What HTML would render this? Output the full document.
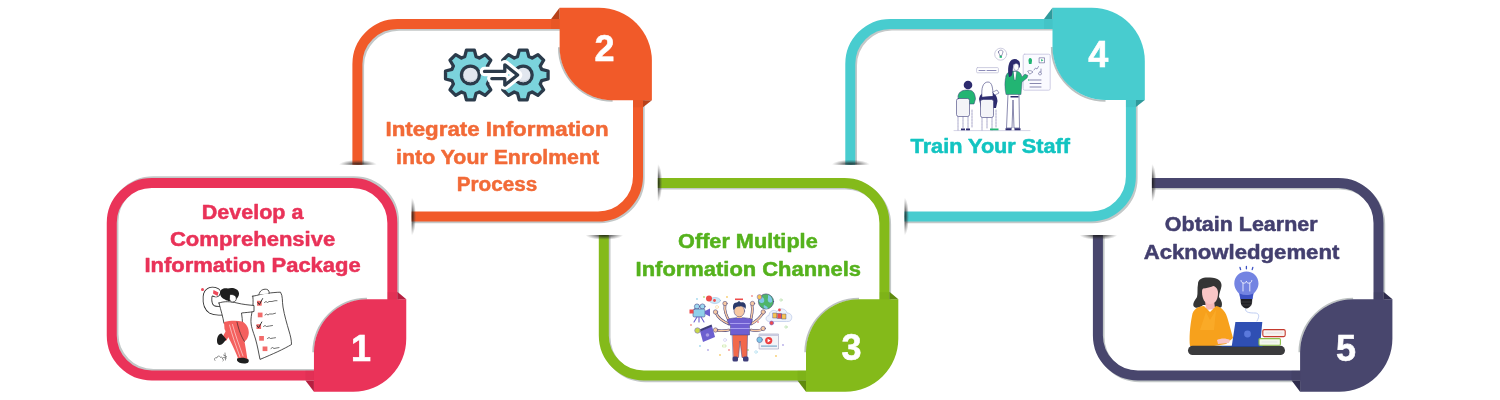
<!DOCTYPE html>
<html><head><meta charset="utf-8"><style>
html,body{margin:0;padding:0;background:#fff;}
svg{display:block;will-change:transform;}
text{font-family:"Liberation Sans",sans-serif;font-weight:bold;}
text.t{stroke-width:0.5px;stroke-linejoin:round;}
</style></head><body>
<svg width="1500" height="400" viewBox="0 0 1500 400">
<defs><radialGradient id="cap5a" cx="0.5" cy="0.5" r="0.5"><stop offset="0" stop-color="#111" stop-opacity="0.85"/><stop offset="0.4" stop-color="#222" stop-opacity="0.6"/><stop offset="1" stop-color="#444" stop-opacity="0"/></radialGradient><clipPath id="cap5ac"><path d="M-13.5,57.0 H24.5 V62.0 H-13.5 Z"/></clipPath><radialGradient id="cap5b" cx="0.5" cy="0.5" r="0.5"><stop offset="0" stop-color="#111" stop-opacity="0.85"/><stop offset="0.4" stop-color="#222" stop-opacity="0.6"/><stop offset="1" stop-color="#444" stop-opacity="0"/></radialGradient><clipPath id="cap5bc"><path d="M59.0,-14.0 H63.5 V24.0 H59.0 Z"/></clipPath><radialGradient id="cap4a" cx="0.5" cy="0.5" r="0.5"><stop offset="0" stop-color="#111" stop-opacity="0.85"/><stop offset="0.4" stop-color="#222" stop-opacity="0.6"/><stop offset="1" stop-color="#444" stop-opacity="0"/></radialGradient><clipPath id="cap4ac"><path d="M-13.5,140.8 H24.5 V145.8 H-13.5 Z"/></clipPath><radialGradient id="cap4b" cx="0.5" cy="0.5" r="0.5"><stop offset="0" stop-color="#111" stop-opacity="0.85"/><stop offset="0.4" stop-color="#222" stop-opacity="0.6"/><stop offset="1" stop-color="#444" stop-opacity="0"/></radialGradient><clipPath id="cap4bc"><path d="M59.2,178.6 H63.7 V216.6 H59.2 Z"/></clipPath><radialGradient id="cap3a" cx="0.5" cy="0.5" r="0.5"><stop offset="0" stop-color="#111" stop-opacity="0.85"/><stop offset="0.4" stop-color="#222" stop-opacity="0.6"/><stop offset="1" stop-color="#444" stop-opacity="0"/></radialGradient><clipPath id="cap3ac"><path d="M-13.5,57.0 H24.5 V62.0 H-13.5 Z"/></clipPath><radialGradient id="cap3b" cx="0.5" cy="0.5" r="0.5"><stop offset="0" stop-color="#111" stop-opacity="0.85"/><stop offset="0.4" stop-color="#222" stop-opacity="0.6"/><stop offset="1" stop-color="#444" stop-opacity="0"/></radialGradient><clipPath id="cap3bc"><path d="M59.0,-14.0 H63.5 V24.0 H59.0 Z"/></clipPath><radialGradient id="cap2a" cx="0.5" cy="0.5" r="0.5"><stop offset="0" stop-color="#111" stop-opacity="0.85"/><stop offset="0.4" stop-color="#222" stop-opacity="0.6"/><stop offset="1" stop-color="#444" stop-opacity="0"/></radialGradient><clipPath id="cap2ac"><path d="M-13.5,140.8 H24.5 V145.8 H-13.5 Z"/></clipPath><radialGradient id="cap2b" cx="0.5" cy="0.5" r="0.5"><stop offset="0" stop-color="#111" stop-opacity="0.85"/><stop offset="0.4" stop-color="#222" stop-opacity="0.6"/><stop offset="1" stop-color="#444" stop-opacity="0"/></radialGradient><clipPath id="cap2bc"><path d="M59.2,178.6 H63.7 V216.6 H59.2 Z"/></clipPath></defs>
<rect width="1500" height="400" fill="#fff"/>
<g transform="translate(1092.9,177.9)">
<path d="M5.0,57.0 V157.6 A40.0,40.0 0 0 0 45.0,197.6 H245.60000000000002 A40.0,40.0 0 0 0 285.6,157.6 V45.0 A40.0,40.0 0 0 0 245.60000000000002,5.0 H59.0" fill="none" stroke="#c3c8c8" stroke-width="10" transform="translate(1.7,1.7)"/>
<path d="M5.0,57.0 V157.6 A40.0,40.0 0 0 0 45.0,197.6 H245.60000000000002 A40.0,40.0 0 0 0 285.6,157.6 V45.0 A40.0,40.0 0 0 0 245.60000000000002,5.0 H59.0" fill="none" stroke="#48466d" stroke-width="10"/>
<ellipse cx="5.5" cy="57.0" rx="19" ry="5" fill="url(#cap5a)" clip-path="url(#cap5ac)"/>
<ellipse cx="59.0" cy="5.0" rx="4.5" ry="19" fill="url(#cap5b)" clip-path="url(#cap5bc)"/>
<path d="M206.5,174.4 A53.7,53.7 0 0 1 260.2,120.7" fill="none" stroke="#bcc1c1" stroke-width="1.9"/>
<path d="M207.2,174.4 A53,53 0 0 1 260.2,121.4 H299.5 V160.8 A53,53 0 0 1 246.5,213.8 H207.2 Z" fill="#48466d"/>
<path d="M280.6,114.4 L290.6,114.4 L299.5,121.4 L280.6,121.4 Z" fill="#2e2c4c" opacity="0.15"/>
<path d="M290.6,113.9 L299.5,121.4 L290.6,121.4 Z" fill="#2e2c4c"/>
<path d="M198.7,192.6 L207.2,192.6 L207.2,202.6 L198.7,202.6 Z" fill="#2e2c4c" opacity="0.15"/>
<path d="M198.7,202.6 L207.2,202.6 L207.2,213.8 Z" fill="#2e2c4c"/>
</g>
<g transform="translate(845.3,18.9)">
<path d="M59.2,197.6 H245.60000000000002 A40.0,40.0 0 0 0 285.6,157.6 V45.0 A40.0,40.0 0 0 0 245.60000000000002,5.0 H45.0 A40.0,40.0 0 0 0 5.0,45.0 V143.8" fill="none" stroke="#c3c8c8" stroke-width="10" transform="translate(1.7,1.7)"/>
<path d="M59.2,197.6 H245.60000000000002 A40.0,40.0 0 0 0 285.6,157.6 V45.0 A40.0,40.0 0 0 0 245.60000000000002,5.0 H45.0 A40.0,40.0 0 0 0 5.0,45.0 V145.8" fill="none" stroke="#48cccf" stroke-width="10"/>
<ellipse cx="5.5" cy="145.8" rx="19" ry="5" fill="url(#cap4a)" clip-path="url(#cap4ac)"/>
<ellipse cx="59.2" cy="197.6" rx="4.5" ry="19" fill="url(#cap4b)" clip-path="url(#cap4bc)"/>
<path d="M260.2,81.89999999999999 A53.7,53.7 0 0 1 206.5,28.19999999999999" fill="none" stroke="#bcc1c1" stroke-width="1.9"/>
<path d="M207.2,-11.200000000000017 H246.5 A53,53 0 0 1 299.5,41.79999999999998 V81.19999999999999 H260.2 A53,53 0 0 1 207.2,28.19999999999999 Z" fill="#48cccf"/>
<path d="M198.7,0 L207.2,0 L207.2,10 L198.7,10 Z" fill="#2f9a9c" opacity="0.15"/>
<path d="M198.7,0 L207.2,-11.200000000000017 L207.2,0 Z" fill="#2f9a9c"/>
<path d="M280.6,81.19999999999999 L290.6,81.19999999999999 L290.6,88.19999999999999 L280.6,88.19999999999999 Z" fill="#2f9a9c" opacity="0.15"/>
<path d="M290.6,88.19999999999999 L299.5,81.19999999999999 L290.6,81.19999999999999 Z" fill="#2f9a9c"/>
</g>
<g transform="translate(598.8,177.9)">
<path d="M5.0,57.0 V157.6 A40.0,40.0 0 0 0 45.0,197.6 H245.60000000000002 A40.0,40.0 0 0 0 285.6,157.6 V45.0 A40.0,40.0 0 0 0 245.60000000000002,5.0 H59.0" fill="none" stroke="#c3c8c8" stroke-width="10" transform="translate(1.7,1.7)"/>
<path d="M5.0,57.0 V157.6 A40.0,40.0 0 0 0 45.0,197.6 H245.60000000000002 A40.0,40.0 0 0 0 285.6,157.6 V45.0 A40.0,40.0 0 0 0 245.60000000000002,5.0 H59.0" fill="none" stroke="#84ba1a" stroke-width="10"/>
<ellipse cx="5.5" cy="57.0" rx="19" ry="5" fill="url(#cap3a)" clip-path="url(#cap3ac)"/>
<ellipse cx="59.0" cy="5.0" rx="4.5" ry="19" fill="url(#cap3b)" clip-path="url(#cap3bc)"/>
<path d="M206.5,174.4 A53.7,53.7 0 0 1 260.2,120.7" fill="none" stroke="#bcc1c1" stroke-width="1.9"/>
<path d="M207.2,174.4 A53,53 0 0 1 260.2,121.4 H299.5 V160.8 A53,53 0 0 1 246.5,213.8 H207.2 Z" fill="#84ba1a"/>
<path d="M280.6,114.4 L290.6,114.4 L299.5,121.4 L280.6,121.4 Z" fill="#5f8a0f" opacity="0.15"/>
<path d="M290.6,113.9 L299.5,121.4 L290.6,121.4 Z" fill="#5f8a0f"/>
<path d="M198.7,192.6 L207.2,192.6 L207.2,202.6 L198.7,202.6 Z" fill="#5f8a0f" opacity="0.15"/>
<path d="M198.7,202.6 L207.2,202.6 L207.2,213.8 Z" fill="#5f8a0f"/>
</g>
<g transform="translate(352.4,19.0)">
<path d="M59.2,197.6 H245.60000000000002 A40.0,40.0 0 0 0 285.6,157.6 V45.0 A40.0,40.0 0 0 0 245.60000000000002,5.0 H45.0 A40.0,40.0 0 0 0 5.0,45.0 V143.8" fill="none" stroke="#c3c8c8" stroke-width="10" transform="translate(1.7,1.7)"/>
<path d="M59.2,197.6 H245.60000000000002 A40.0,40.0 0 0 0 285.6,157.6 V45.0 A40.0,40.0 0 0 0 245.60000000000002,5.0 H45.0 A40.0,40.0 0 0 0 5.0,45.0 V145.8" fill="none" stroke="#f15a29" stroke-width="10"/>
<ellipse cx="5.5" cy="145.8" rx="19" ry="5" fill="url(#cap2a)" clip-path="url(#cap2ac)"/>
<ellipse cx="59.2" cy="197.6" rx="4.5" ry="19" fill="url(#cap2b)" clip-path="url(#cap2bc)"/>
<path d="M260.2,81.89999999999999 A53.7,53.7 0 0 1 206.5,28.19999999999999" fill="none" stroke="#bcc1c1" stroke-width="1.9"/>
<path d="M207.2,-11.200000000000017 H246.5 A53,53 0 0 1 299.5,41.79999999999998 V81.19999999999999 H260.2 A53,53 0 0 1 207.2,28.19999999999999 Z" fill="#f15a29"/>
<path d="M198.7,0 L207.2,0 L207.2,10 L198.7,10 Z" fill="#b8421a" opacity="0.15"/>
<path d="M198.7,0 L207.2,-11.200000000000017 L207.2,0 Z" fill="#b8421a"/>
<path d="M280.6,81.19999999999999 L290.6,81.19999999999999 L290.6,88.19999999999999 L280.6,88.19999999999999 Z" fill="#b8421a" opacity="0.15"/>
<path d="M290.6,88.19999999999999 L299.5,81.19999999999999 L290.6,81.19999999999999 Z" fill="#b8421a"/>
</g>
<g transform="translate(106.75,177.9)">
<path d="M45.0,5.0 H245.60000000000002 A40.0,40.0 0 0 1 285.6,45.0 V157.6 A40.0,40.0 0 0 1 245.60000000000002,197.6 H45.0 A40.0,40.0 0 0 1 5.0,157.6 V45.0 A40.0,40.0 0 0 1 45.0,5.0 Z" fill="none" stroke="#c3c8c8" stroke-width="10" transform="translate(1.7,-1.6)"/>
<path d="M45.0,5.0 H245.60000000000002 A40.0,40.0 0 0 1 285.6,45.0 V157.6 A40.0,40.0 0 0 1 245.60000000000002,197.6 H45.0 A40.0,40.0 0 0 1 5.0,157.6 V45.0 A40.0,40.0 0 0 1 45.0,5.0 Z" fill="none" stroke="#ea3359" stroke-width="10"/>
<path d="M206.5,174.4 A53.7,53.7 0 0 1 260.2,120.7" fill="none" stroke="#bcc1c1" stroke-width="1.9"/>
<path d="M207.2,174.4 A53,53 0 0 1 260.2,121.4 H299.5 V160.8 A53,53 0 0 1 246.5,213.8 H207.2 Z" fill="#ea3359"/>
<path d="M280.6,114.4 L290.6,114.4 L299.5,121.4 L280.6,121.4 Z" fill="#b51f40" opacity="0.15"/>
<path d="M290.6,113.9 L299.5,121.4 L290.6,121.4 Z" fill="#b51f40"/>
<path d="M198.7,192.6 L207.2,192.6 L207.2,202.6 L198.7,202.6 Z" fill="#b51f40" opacity="0.15"/>
<path d="M198.7,202.6 L207.2,202.6 L207.2,213.8 Z" fill="#b51f40"/>
</g>
<text x="361.0" y="360.8" font-size="36" fill="#fff" stroke="#fff" stroke-width="0.6" text-anchor="middle">1</text>
<text x="604.6" y="61.0" font-size="36" fill="#fff" stroke="#fff" stroke-width="0.6" text-anchor="middle">2</text>
<text x="851.4" y="360.3" font-size="36" fill="#fff" stroke="#fff" stroke-width="0.6" text-anchor="middle">3</text>
<text x="1098.3" y="66.9" font-size="36" fill="#fff" stroke="#fff" stroke-width="0.6" text-anchor="middle">4</text>
<text x="1346.0" y="361.2" font-size="36" fill="#fff" stroke="#fff" stroke-width="0.6" text-anchor="middle">5</text>
<text class="t" x="252.6" y="218.5" font-size="20.0" fill="#e93258" stroke="#e93258" text-anchor="middle" textLength="101.5" lengthAdjust="spacingAndGlyphs" >Develop a</text>
<text class="t" x="252.6" y="245.5" font-size="20.0" fill="#e93258" stroke="#e93258" text-anchor="middle" textLength="165.29999999999998" lengthAdjust="spacingAndGlyphs" >Comprehensive</text>
<text class="t" x="252.6" y="271.9" font-size="20.0" fill="#e93258" stroke="#e93258" text-anchor="middle" textLength="216.29999999999998" lengthAdjust="spacingAndGlyphs" >Information Package</text>
<text class="t" x="497.0" y="135.5" font-size="20.0" fill="#f26a37" stroke="#f26a37" text-anchor="middle" textLength="223.1" lengthAdjust="spacingAndGlyphs" >Integrate Information</text>
<text class="t" x="497.6" y="163.5" font-size="20.0" fill="#f26a37" stroke="#f26a37" text-anchor="middle" textLength="203.0" lengthAdjust="spacingAndGlyphs" >into Your Enrolment</text>
<text class="t" x="497.0" y="191.4" font-size="20.0" fill="#f26a37" stroke="#f26a37" text-anchor="middle" textLength="80.39999999999999" lengthAdjust="spacingAndGlyphs" >Process</text>
<text class="t" x="747.9" y="248.20000000000002" font-size="20.0" fill="#55b21d" stroke="#55b21d" text-anchor="middle" textLength="139.6" lengthAdjust="spacingAndGlyphs" >Offer Multiple</text>
<text class="t" x="748.3" y="275.79999999999995" font-size="20.0" fill="#55b21d" stroke="#55b21d" text-anchor="middle" textLength="225.4" lengthAdjust="spacingAndGlyphs" >Information Channels</text>
<text class="t" x="990.3" y="153.3" font-size="20.0" fill="#12c4c1" stroke="#12c4c1" text-anchor="middle" textLength="159.4" lengthAdjust="spacingAndGlyphs" >Train Your Staff</text>
<text class="t" x="1241.2" y="231.4" font-size="20.0" fill="#433f6f" stroke="#433f6f" text-anchor="middle" textLength="152.7" lengthAdjust="spacingAndGlyphs" >Obtain Learner</text>
<text class="t" x="1241.5" y="259.0" font-size="20.0" fill="#433f6f" stroke="#433f6f" text-anchor="middle" textLength="195.7" lengthAdjust="spacingAndGlyphs" >Acknowledgement</text>
<g id="ill1" stroke-linecap="round" stroke-linejoin="round">
  <!-- checklist paper -->
  <path d="M252.8,296.2 C258,295.5 262,293.5 267,293.2 C272,292.9 276,292.2 280.5,292.2 C283,296 282,301 283,307 C284.5,316 287,324 289,331 C290.5,336 291.5,340 291.5,344.5 C284,349 273,354 260,359.4 C258.5,352 257.5,346 255.5,339 C253,331 250.5,326 251,319 C251.5,312 254,306 252.8,296.2 Z" fill="#fff" stroke="#222" stroke-width="0.8"/>
  <path d="M259,294.5 C259.5,290.5 263,288.8 266.5,289.3 C269,289.8 269.5,292 269,293.5" fill="#fff" stroke="#222" stroke-width="0.8"/>
  <rect x="257" y="300.8" width="4.7" height="4.9" fill="#f26b6a"/>
  <rect x="257.8" y="312.6" width="4.7" height="4.7" fill="#f26b6a"/>
  <rect x="256.5" y="324.2" width="4.6" height="4.8" fill="#f26b6a"/>
  <rect x="259.2" y="336" width="4.7" height="4.7" fill="#f26b6a"/>
  <rect x="262.6" y="346.5" width="4.8" height="4.6" fill="#f26b6a"/>
  <path d="M257.8,302.3 L259.4,304.6 L262.6,298.6" fill="none" stroke="#222" stroke-width="0.9"/>
  <path d="M257,325.6 L258.6,327.8 L261.8,322" fill="none" stroke="#222" stroke-width="0.9"/>
  <g fill="none" stroke="#333" stroke-width="0.7">
    <path d="M264.5,302.5 l1.5,-1 l1.5,1 l1.5,-1 l3,0 l3,-0.8 l2,0"/>
    <path d="M265,315 l1.5,-1 l1.5,1 l1.5,-1 l3,0 l3,-0.8"/>
    <path d="M263.5,326.5 l1.5,-1 l1.5,1 l3,-0.5 l3,-0.5"/>
    <path d="M267.5,338.5 l1.5,-1 l1.5,1 l3,-0.5 l2,-0.3"/>
    <path d="M271,348.5 l1.5,-1 l1.5,1 l3,-0.6 l2,-0.3"/>
  </g>
  <!-- raised arm (thick outlined band) -->
  <path d="M216,292.5 C211.5,290.5 208,292 207.5,297 C207,303 208,307 212,309.5 C215,311 219,311 223,310.5" fill="none" stroke="#222" stroke-width="9.6"/>
  <path d="M216,292.5 C211.5,290.5 208,292 207.5,297 C207,303 208,307 212,309.5 C215,311 219,311 223,310.5" fill="none" stroke="#fff" stroke-width="8"/>
  <!-- marker -->
  <path d="M213.5,290 L218.5,292.5 L217.5,296 L213,293.5 Z" fill="#ee4a5a"/>
  <circle cx="202.5" cy="289.5" r="1.5" fill="#ee4a5a"/>
  <!-- body / shirt -->
  <path d="M219,303 C224,301 231,301.5 237,303 C243,304.5 249,305 254,305.5 L254,311.5 C249,312.5 245,312.5 241.5,313 C242,317 242.5,320 242.5,323.5 C236,325 230,325 224,323.5 C223,317 221,311 219,303 Z" fill="#fff" stroke="#222" stroke-width="0.8"/>
  <!-- hair -->
  <path d="M220,293 C220,289 224,287.5 228,288.5 C230,287.5 235,287.5 237.5,290 C239.5,292 239.5,295 238,297 C237,299 235,300 233,300.5 C230,301.5 227,301 225,299.5 C222,298.5 220,296 220,293 Z" fill="#1f1f1f"/>
  <path d="M230,294.5 C233,294 236,295.5 236.3,298 C236.5,300.5 235,302 232.5,302 C230.5,302 229.5,300.5 229.5,299 Z" fill="#fff" stroke="#222" stroke-width="0.7"/>
  <!-- pants -->
  <path d="M224,322 C230,320.5 237,320.5 242,321.5 C246.5,323.5 249,328 248.8,333 C248.5,337 246.5,340.5 244.5,341.5 C245.5,347 246.5,353 247.4,359 L238.5,359.5 C236,353 233,346 230,340.5 C228,337 226.5,333 224.5,329 Z" fill="#f4605e"/>
  <path d="M226.5,330 C224.5,333 223,336 222,339 L226,341 C228,338 229.5,335 230.5,333 Z" fill="#f4605e"/>
  <g fill="none" stroke="#fff" stroke-width="0.6" opacity="0.9">
    <path d="M229.5,325 C232,335 236,346 240,357"/>
    <path d="M232.5,324.5 C235,334 239,345 243,356"/>
  </g>
  <path d="M237,322 C239,331 241.5,337 244.5,341.5" fill="none" stroke="#222" stroke-width="0.6"/>
  <!-- shoes -->
  <path d="M221.5,333.5 C218.5,334 217,337 217,341 C217,345 219.5,345.5 221.5,344.5 C223.5,343.5 224.5,341 226.5,339.5 Z" fill="#1f1f1f"/>
  <path d="M237,358.5 C240.5,357.5 245.5,357.5 248.5,359.5 C249.5,362.5 247.5,363.5 244,363.5 C240.5,363.5 238,362.5 237,360.5 Z" fill="#1f1f1f"/>
  <!-- grass doodle -->
  <path d="M215,360.5 c-1.5,-1.5 0,-3.5 2,-2.5 c0,-2.5 3,-2.5 3.5,-0.5 c1,-1 2.5,0 2,1.5 c1,0 1.5,1.5 0.5,2 m2,-8 l0.5,7 m-2,-5 l3,1.5 m-3,1 l3,0.5" fill="none" stroke="#444" stroke-width="0.6"/>
</g>

<g id="ill2"><path d="M464.74,56.65 L466.42,50.12 L474.38,50.12 L476.06,56.65 A19.2,19.2 0 0 1 479.37,58.02 L485.18,54.59 L490.81,60.22 L487.38,66.03 A19.2,19.2 0 0 1 488.75,69.34 L495.28,71.02 L495.28,78.98 L488.75,80.66 A19.2,19.2 0 0 1 487.38,83.97 L490.81,89.78 L485.18,95.41 L479.37,91.98 A19.2,19.2 0 0 1 476.06,93.35 L474.38,99.88 L466.42,99.88 L464.74,93.35 A19.2,19.2 0 0 1 461.43,91.98 L455.62,95.41 L449.99,89.78 L453.42,83.97 A19.2,19.2 0 0 1 452.05,80.66 L445.52,78.98 L445.52,71.02 L452.05,69.34 A19.2,19.2 0 0 1 453.42,66.03 L449.99,60.22 L455.62,54.59 L461.43,58.02 A19.2,19.2 0 0 1 464.74,56.65 Z" fill="#7bd3dc" stroke="#2b3b4b" stroke-width="3.3" stroke-linejoin="round"/><circle cx="470.4" cy="75.0" r="10.6" fill="#2b3b4b"/><circle cx="470.4" cy="75.0" r="7.3" fill="#e2e7ef"/><path d="M463.2,76.2 A7.3,7.3 0 0 0 477.59999999999997,76.2 A8,8 0 0 1 463.2,76.2 Z" fill="#c5ccd6"/><path d="M517.54,56.65 L519.22,50.12 L527.18,50.12 L528.86,56.65 A19.2,19.2 0 0 1 532.17,58.02 L537.98,54.59 L543.61,60.22 L540.18,66.03 A19.2,19.2 0 0 1 541.55,69.34 L548.08,71.02 L548.08,78.98 L541.55,80.66 A19.2,19.2 0 0 1 540.18,83.97 L543.61,89.78 L537.98,95.41 L532.17,91.98 A19.2,19.2 0 0 1 528.86,93.35 L527.18,99.88 L519.22,99.88 L517.54,93.35 A19.2,19.2 0 0 1 514.23,91.98 L508.42,95.41 L502.79,89.78 L506.22,83.97 A19.2,19.2 0 0 1 504.85,80.66 L498.32,78.98 L498.32,71.02 L504.85,69.34 A19.2,19.2 0 0 1 506.22,66.03 L502.79,60.22 L508.42,54.59 L514.23,58.02 A19.2,19.2 0 0 1 517.54,56.65 Z" fill="#7bd3dc" stroke="#2b3b4b" stroke-width="3.3" stroke-linejoin="round"/><circle cx="523.2" cy="75.0" r="10.6" fill="#2b3b4b"/><circle cx="523.2" cy="75.0" r="7.3" fill="#e2e7ef"/><path d="M516.0,76.2 A7.3,7.3 0 0 0 530.4000000000001,76.2 A8,8 0 0 1 516.0,76.2 Z" fill="#c5ccd6"/><path d="M484.5,71.4 H504.8 V64.8 L517.6,75 L504.8,85.1 V78.6 H491.8" fill="none" stroke="#fff" stroke-width="9.5" stroke-linejoin="round" stroke-linecap="round"/><path d="M484.5,71.4 H504.8 V64.8 L517.6,75 L504.8,85.1 V78.6 H491.8" fill="none" stroke="#2b3b4b" stroke-width="3.3" stroke-linejoin="round" stroke-linecap="round"/></g>
<g id="ill3" stroke-linecap="round" stroke-linejoin="round">
  <!-- confetti -->
  <g opacity="0.85">
    <circle cx="697" cy="299" r="0.9" fill="#8fd0ea"/>
    <circle cx="704" cy="297" r="0.9" fill="#a5d66a"/>
    <circle cx="727" cy="297" r="0.9" fill="#f6c453"/>
    <circle cx="752" cy="296" r="0.9" fill="#f27b7b"/>
    <circle cx="781" cy="300" r="1.2" fill="none" stroke="#9bd48a" stroke-width="0.6"/>
    <circle cx="786" cy="327" r="1.2" fill="none" stroke="#9bd48a" stroke-width="0.6"/>
    <circle cx="783" cy="345" r="0.9" fill="#a89be3"/>
    <circle cx="691" cy="325" r="0.9" fill="#f27b7b"/>
    <circle cx="700" cy="346" r="0.9" fill="#8fd0ea"/>
    <circle cx="708" cy="350" r="0.9" fill="#a89be3"/>
    <circle cx="720" cy="355" r="0.9" fill="#f6c453"/>
    <circle cx="725" cy="340" r="1.5" fill="none" stroke="#c9c3ef" stroke-width="0.7"/>
    <rect x="723" cy="345" y="345" width="3" height="2" fill="none" stroke="#a5d66a" stroke-width="0.5"/>
    <circle cx="717" cy="307" r="1.5" fill="none" stroke="#f6d48a" stroke-width="0.6"/>
    <circle cx="756" cy="352" r="1.3" fill="none" stroke="#8fd0ea" stroke-width="0.6"/>
    <circle cx="776" cy="356" r="0.9" fill="#f6c453"/>
    <circle cx="758" cy="322" r="0.9" fill="#f27b7b"/>
    <circle cx="748" cy="350" r="0.9" fill="#a5d66a"/>
    <circle cx="729" cy="350" r="0.9" fill="#f27b7b"/>
  </g>
  <!-- like bubble -->
  <ellipse cx="715" cy="300.5" rx="5.5" ry="3" fill="#cde9f7" stroke="#8db6e0" stroke-width="0.5"/>
  <circle cx="709" cy="298.6" r="3" fill="#ee4c4c"/>
  <circle cx="714.5" cy="300.5" r="1.4" fill="#ee4c4c"/>
  <!-- camera -->
  <circle cx="697" cy="306.5" r="2.6" fill="#9ed8f0" stroke="#4a4a8c" stroke-width="0.6"/>
  <circle cx="702.5" cy="306.5" r="2.6" fill="#9ed8f0" stroke="#4a4a8c" stroke-width="0.6"/>
  <rect x="693" y="309" width="12" height="8" rx="1.5" fill="#8fd0ea" stroke="#4a4a8c" stroke-width="0.6"/>
  <path d="M705,311 L710,308.5 L710,316.5 L705,314 Z" fill="#6c5fcf"/>
  <rect x="689.5" y="309.5" width="4" height="4" fill="#ee4c4c"/>
  <path d="M697,317 L694,322 M699,317 L699,322 M701,317 L704,322" stroke="#6c5fcf" stroke-width="1.1" fill="none"/>
  <!-- clapperboard -->
  <path d="M700,331 L712,326 L715,337 L703,342 Z" fill="#6c5fcf"/>
  <path d="M699.5,329.5 L711.5,324.5 L712.2,326.5 L700.2,331.5 Z" fill="#3f3d7a"/>
  <circle cx="707.5" cy="335" r="1.8" fill="#a89be3"/>
  <circle cx="697.5" cy="330.5" r="2.8" fill="#c8d84a" stroke="#6c5fcf" stroke-width="0.5"/>
  <!-- arms (skin) -->
  <g fill="none" stroke="#3f3d7a" stroke-width="2.6">
    <path d="M730,322 C726,316 724,311 725,305"/>
    <path d="M729,324 C722,321 718,318 716,313"/>
    <path d="M729,330 C724,331 719,331 716,330"/>
    <path d="M750,322 C752,316 753,311 752,305"/>
    <path d="M751,324 C757,321 760,318 763,313"/>
    <path d="M751,330 C756,331 760,331 763,329"/>
  </g>
  <g fill="none" stroke="#f7c9a3" stroke-width="1.6">
    <path d="M730,322 C726,316 724,311 725,305"/>
    <path d="M729,324 C722,321 718,318 716,313"/>
    <path d="M729,330 C724,331 719,331 716,330"/>
    <path d="M750,322 C752,316 753,311 752,305"/>
    <path d="M751,324 C757,321 760,318 763,313"/>
    <path d="M751,330 C756,331 760,331 763,329"/>
  </g>
  <g fill="#f7c9a3" stroke="#3f3d7a" stroke-width="0.5">
    <circle cx="725" cy="303.5" r="2.2"/>
    <circle cx="715.5" cy="312" r="2.2"/>
    <circle cx="715.5" cy="330" r="2.2"/>
    <circle cx="752.5" cy="303.5" r="2.2"/>
    <circle cx="763.2" cy="312" r="2.2"/>
    <circle cx="763.2" cy="328.5" r="2.2"/>
  </g>
  <!-- legs/pants -->
  <path d="M732.5,334 L747.5,334 L747,357.5 L742,357.5 L740,341 L738.5,357.5 L733.5,357.5 Z" fill="#f2694b" stroke="#3f3d7a" stroke-width="0.5"/>
  <rect x="732.5" y="356.5" width="5.5" height="5" rx="1.5" fill="#3f3d7a"/>
  <rect x="743" y="356.5" width="5.5" height="5" rx="1.5" fill="#3f3d7a"/>
  <!-- shirt -->
  <path d="M727.5,319.5 C732,317 748,317 752.5,319.5 L751,325 L749.5,325 L749.5,335 L730.5,335 L730.5,325 L729,325 Z" fill="#6f5fd1" stroke="#3f3d7a" stroke-width="0.5"/>
  <path d="M730.5,323.5 H749.5 M730.5,328.5 H749.5" stroke="#a99ff0" stroke-width="1" fill="none"/>
  <!-- head -->
  <rect x="737" y="314" width="5" height="4" fill="#f7c9a3"/>
  <ellipse cx="739.3" cy="311" rx="5.3" ry="5.8" fill="#f7c9a3" stroke="#3f3d7a" stroke-width="0.5"/>
  <path d="M733.5,310 C732,305 734,302 737,302.5 L739,301 L741,302.5 C744,301.5 747,304 745.5,309 C744.5,307 742,306 740,306.5 C738,306.5 736,306.5 735,308.5 C734.5,309 734,309.5 733.5,310 Z" fill="#2b3a6b"/>
  <rect x="735" y="298.5" width="8" height="1.6" fill="#ee4c4c"/>
  <!-- globe -->
  <circle cx="766" cy="301.5" r="7.6" fill="#4fb56a" stroke="#3f3d7a" stroke-width="0.6"/>
  <path d="M760,298 C763,296 765,299 764,302 C762,304 760,303 759,301 Z M768,295 C771,296 773,299 772,302 C769,304 767,301 768,298 Z M764,305 C767,306 769,308 767,309 C764,309 763,307 764,305 Z" fill="#7fc7e8"/>
  <circle cx="759.5" cy="297" r="2.4" fill="#f6c453" stroke="#6c5fcf" stroke-width="0.5"/>
  <!-- cloud -->
  <path d="M769,321.5 C765,321.5 765,316 769,315.5 C769,311 774,309 777,311.5 C779,307.5 786,308 787,313 C791,313 793,316.5 791,320 C790,321.5 789,321.5 787,321.5 Z" fill="#eef3fb" stroke="#b8c6e6" stroke-width="0.7"/>
  <rect x="773" y="313" width="4" height="5" fill="#f6c453" stroke="#3f3d7a" stroke-width="0.4"/>
  <rect x="777.5" y="313.5" width="4" height="5" fill="#ee4c4c" stroke="#3f3d7a" stroke-width="0.4"/>
  <rect x="782" y="314" width="4" height="5" fill="#f6c453" stroke="#3f3d7a" stroke-width="0.4"/>
  <circle cx="779.5" cy="310" r="1.4" fill="#ee4c4c"/>
  <circle cx="771.6" cy="323" r="2" fill="#ee4c4c" stroke="#6c5fcf" stroke-width="0.5"/>
  <!-- video player -->
  <rect x="759.5" y="334" width="19" height="15" fill="#f3f4f8" stroke="#9a9ab8" stroke-width="0.6"/>
  <rect x="759.5" y="334" width="19" height="2" fill="#c9cbe0"/>
  <circle cx="768.7" cy="340.6" r="3.6" fill="#ee3f3f"/>
  <path d="M767.6,338.8 L770.6,340.6 L767.6,342.4 Z" fill="#fff"/>
  <rect x="761" y="345.5" width="16" height="1.2" fill="#7aa9c9"/>
  <circle cx="759.6" cy="339.8" r="2.8" fill="#7fc7e8" stroke="#3f3d7a" stroke-width="0.4"/>
</g>

<g id="ill4" stroke-linecap="round" stroke-linejoin="round">
  <!-- bulb circle -->
  <circle cx="1000.7" cy="54.2" r="6" fill="#fff" stroke="#b9b7d3" stroke-width="0.7"/>
  <path d="M998.5,52 C998.5,49.5 1003,49.5 1003,52 C1003,53.5 1001.8,54 1001.8,55.5 L999.7,55.5 C999.7,54 998.5,53.5 998.5,52 Z" fill="#fff" stroke="#3b3a78" stroke-width="0.5"/>
  <rect x="999.6" y="55.8" width="2.3" height="2" fill="#22b573"/>
  <!-- label -->
  <rect x="976.6" y="67.6" width="21.8" height="5.2" rx="1" fill="#fff" stroke="#b9b7d3" stroke-width="0.7"/>
  <path d="M979,70.5 h6 M987,70.5 h9" stroke="#6f6da6" stroke-width="0.8"/>
  <!-- floor -->
  <path d="M954,130.6 H1030" stroke="#b9b7d3" stroke-width="0.6"/>
  <!-- student 1 -->
  <path d="M958,96 C959,91 963,90 968,90 C973,90 975,93 975.5,99 L974,104 L959,104 Z" fill="#22b573" stroke="#3b3a78" stroke-width="0.5"/>
  <circle cx="968" cy="85" r="4.3" fill="#2d2b6e"/>
  <rect x="956.5" y="98.5" width="13" height="18" rx="2" fill="#f4f4f8" stroke="#3b3a78" stroke-width="0.6"/>
  <path d="M958,116.5 V130 M968,116.5 V130 M972,110 V128 M963,116.5 V128" stroke="#6f6da6" stroke-width="0.6" stroke-dasharray="2 1"/>
  <path d="M961,128.5 h4 v1.8 h-4 Z M966,128.5 h4 v1.8 h-4 Z" fill="#2d2b6e"/>
  <!-- student 2 -->
  <path d="M979,99 C980,93 984,92 988,92 C994,92 997,95 997.5,101 L996,108 L981,108 Z" fill="#2d2b6e"/>
  <path d="M982,97 C981,88 983,82 988,82 C992,82 993,88 993,96 Z" fill="#fff" stroke="#3b3a78" stroke-width="0.6"/>
  <path d="M993,92 L997,90 L999,93 L995,95 Z" fill="#fff" stroke="#3b3a78" stroke-width="0.5"/>
  <rect x="980.5" y="99.5" width="13" height="18" rx="2" fill="#f4f4f8" stroke="#3b3a78" stroke-width="0.6"/>
  <path d="M982,117.5 V130 M992,117.5 V130 M996,110 V128 M987,117.5 V128" stroke="#6f6da6" stroke-width="0.6" stroke-dasharray="2 1"/>
  <path d="M990,128.5 h4.5 v1.8 h-4.5 Z M994.5,128.5 h4 v1.8 h-4 Z" fill="#22b573"/>
  <!-- board -->
  <rect x="1023.2" y="54.2" width="27" height="36" rx="1.5" fill="#fafaff" stroke="#c4c2de" stroke-width="0.8"/>
  <path d="M1030,58 C1031.5,58 1032.2,59.5 1032,61 L1031.5,64 L1029,64 L1028.5,61 C1028.3,59.5 1029,58 1030,58 Z" fill="#22b573"/>
  <rect x="1039.5" y="57.8" width="5" height="5" fill="#fff" stroke="#3b3a78" stroke-width="0.5"/>
  <path d="M1041.2,59 L1043.4,60.3 L1041.2,61.6 Z" fill="#22b573"/>
  <path d="M1034,70 l1.5,-2 l1.5,1 l1.5,-2.5 M1040,72 c2,0 2,3 0,3 c-2,0 -2,-3 0,-3 M1041,72 v-3" stroke="#3b3a78" stroke-width="0.5" fill="none"/>
  <path d="M1028,71 c2,-1 4,0 5,1 l-3,2 z" fill="#fff" stroke="#3b3a78" stroke-width="0.5"/>
  <path d="M1030,80 h11 M1030,83.5 h11 M1030,87 h11" stroke="#3b3a78" stroke-width="0.6"/>
  <circle cx="1028.8" cy="80" r="0.8" fill="#22b573"/>
  <!-- teacher -->
  <path d="M1008,94 L1006.5,128 L1012,128 L1013,100 L1014,128 L1019.5,128 L1019,94 Z" fill="#fff" stroke="#3b3a78" stroke-width="0.6"/>
  <path d="M1006,76 C1007,72 1010,71 1013,71 L1017,71 C1020,72 1021.5,74 1022,77 L1025,74 L1028,75.5 L1027,78 L1022,82 L1021,94.5 L1006,94.5 C1004.5,88 1004.5,81 1006,76 Z" fill="#22b573" stroke="#3b3a78" stroke-width="0.4"/>
  <path d="M1013.5,71.5 L1016.5,71.5 L1015.5,80 L1014.5,80 Z" fill="#fff" stroke="#3b3a78" stroke-width="0.3"/>
  <path d="M1009,77 C1007.5,72 1008,66 1009.5,62.5 C1011.5,58.5 1016.5,58 1019,61 C1020.5,63 1020,66 1019.5,68 C1018.5,65 1016,63.5 1013.5,64.5 C1012.5,68 1013,72 1012,75 C1011,76.5 1010,77 1009,77 Z" fill="#2d2b6e"/>
  <ellipse cx="1016.2" cy="67" rx="2.7" ry="3.6" fill="#fff" stroke="#3b3a78" stroke-width="0.4"/>
  <path d="M1010.5,96 h8 v1.5 h-8 Z" fill="#2d2b6e"/>
  <path d="M1005.5,128.3 h6 v1.9 h-6 Z M1014.5,128.3 h6 v1.9 h-6 Z" fill="#2d2b6e"/>
</g>

<g id="ill5" stroke-linecap="round" stroke-linejoin="round">
  <!-- hair back -->
  <path d="M1198,284 C1198,278 1204,277 1210,277.5 C1218,278 1222,281 1221.5,286 C1221,290 1219,293 1219,297 C1221,300 1223,303 1221.5,307 C1219,309 1215,308 1212,305 L1203,305 C1200,308 1195,309 1193.5,306 C1192.5,303 1195,300 1197,297 C1198,293 1197,289 1198,284 Z" fill="#353535"/>
  <!-- neck + face -->
  <path d="M1205,300 L1214,300 L1215,309 L1206,310 Z" fill="#f4b8b8"/>
  <path d="M1202,292 C1202,287 1205,285.5 1210,285.5 C1215,285.5 1218,288 1218,293 C1218,300 1215,304 1210,304 C1205,304 1202,299 1202,292 Z" fill="#f9c6c6"/>
  <path d="M1199,283.5 C1203,281 1210,281 1216,284 C1213,287 1207,288 1201,289 Z" fill="#353535"/>
  <!-- body -->
  <path d="M1192,316 C1193,309 1198,306.5 1204,306 L1210,312 L1216,306 C1222,307 1226,312 1228,320 L1233,338 L1226,344 L1214,346 L1190,346 C1189,338 1190,326 1192,316 Z" fill="#f7a11c"/>
  <path d="M1206,312 L1210,320 L1216,310 L1214,330 L1200,330 Z" fill="#fbae2c" opacity="0.7"/>
  <path d="M1217,340 C1221,338 1226,338 1230,340 L1229,343 L1218,344 Z" fill="#f9c6c6"/>
  <!-- desk -->
  <rect x="1188" y="345.8" width="97" height="9.3" rx="4.6" fill="#3b3b3d"/>
  <!-- laptop -->
  <path d="M1235.4,322 L1262.3,322 L1260,346.5 L1231.7,346.5 Z" fill="#2f4fb3"/>
  <path d="M1222,346.5 L1262,346.5" stroke="#24418f" stroke-width="1.2"/>
  <circle cx="1247.5" cy="334" r="3.4" fill="#5a79dc"/>
  <!-- wire -->
  <path d="M1245.5,309 C1245,313 1251,313 1255,313 C1259,313 1260,316 1257,321" fill="none" stroke="#b8c7f0" stroke-width="0.9"/>
  <!-- books -->
  <rect x="1262.8" y="329.6" width="22.4" height="7" rx="1.5" fill="#f8f2ef" stroke="#c43a2e" stroke-width="1.1"/>
  <path d="M1266,333 h16" stroke="#d8d0d8" stroke-width="0.6"/>
  <rect x="1259" y="338.6" width="21.4" height="6.6" rx="1" fill="#f4f8ee" stroke="#8dc04a" stroke-width="1.1"/>
  <path d="M1262,342 h15" stroke="#d8d8e0" stroke-width="0.6"/>
  <!-- bulb -->
  <path d="M1246.4,271.5 C1253.5,271.5 1258.5,276.5 1258.5,283.5 C1258.5,288 1256,291 1253.5,294 L1252.5,299 L1240.3,299 L1239.3,294 C1236.8,291 1234.3,288 1234.3,283.5 C1234.3,276.5 1239.3,271.5 1246.4,271.5 Z" fill="#7484e2"/>
  <path d="M1239.5,293.5 C1244,295.5 1249,295.5 1253.2,293.5 L1252.5,299 L1240.3,299 Z" fill="#3d52c4"/>
  <path d="M1243,291 L1243,283 M1249.8,291 L1249.8,283 M1241,280.5 C1241,284 1246.4,284 1246.4,281 C1246.4,284 1251.8,284 1251.8,280.5" fill="none" stroke="#eef0ff" stroke-width="0.9"/>
  <path d="M1240.5,299 H1252.3 L1251.8,304 C1250,307.5 1248,308.5 1246.4,308.5 C1244.8,308.5 1242.8,307.5 1241,304 Z" fill="#1f1f24"/>
  <path d="M1241,302 H1252 M1241.5,305 H1251.2" stroke="#555" stroke-width="0.5"/>
  <path d="M1240,267.5 l0.6,2.2 M1246.4,266.5 v2.3 M1252.8,267.5 l-0.6,2.2" stroke="#3d52c4" stroke-width="1.3"/>
</g>

</svg>
</body></html>
